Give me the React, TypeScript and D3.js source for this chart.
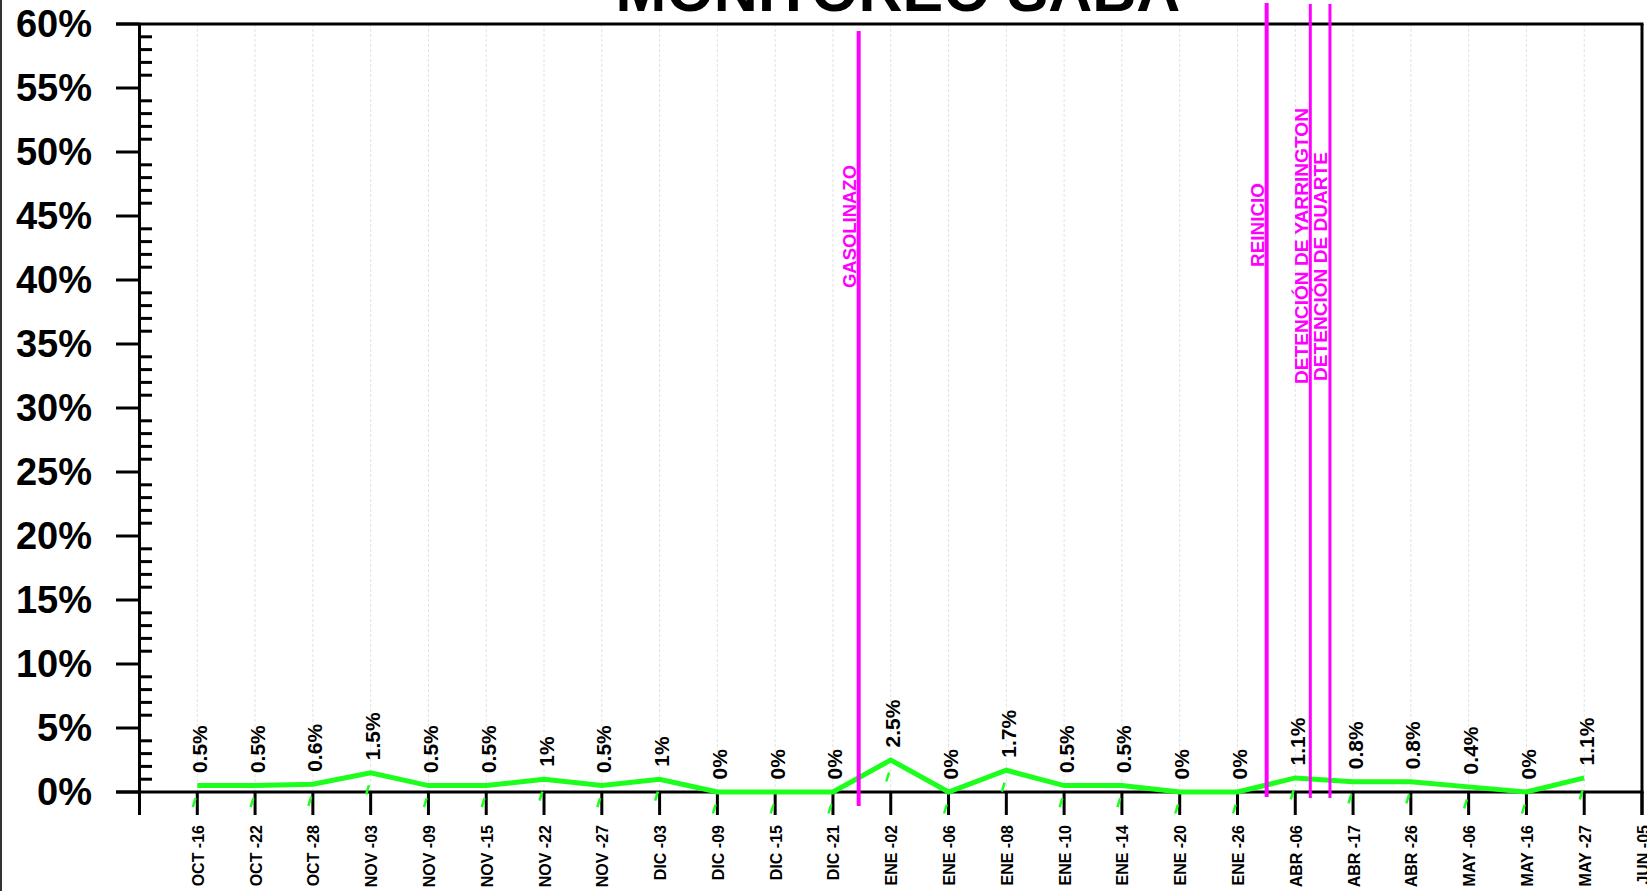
import React from "react";
import * as d3 from "d3";

const categories = [
  "OCT -16", "OCT -22", "OCT -28", "NOV -03", "NOV -09", "NOV -15", "NOV -22", "NOV -27",
  "DIC -03", "DIC -09", "DIC -15", "DIC -21", "ENE -02", "ENE -06", "ENE -08", "ENE -10",
  "ENE -14", "ENE -20", "ENE -26", "ABR -06", "ABR -17", "ABR -26", "MAY -06", "MAY -16",
  "MAY -27", "JUN -05",
];
const values = [
  0.5, 0.5, 0.6, 1.5, 0.5, 0.5, 1, 0.5, 1, 0, 0, 0, 2.5, 0, 1.7, 0.5, 0.5, 0, 0, 1.1, 0.8, 0.8,
  0.4, 0, 1.1,
];
const yTicks = [0, 5, 10, 15, 20, 25, 30, 35, 40, 45, 50, 55, 60];
const events = [
  { label: "GASOLINAZO", pos: 11.445, y1: 31, y2: 806, w: 4, textTop: 165, textBottom: 288 },
  { label: "REINICIO", pos: 18.505, y1: 3, y2: 797, w: 4, textTop: 183, textBottom: 267 },
  { label: "DETENCIÓN DE YARRINGTON", pos: 19.26, y1: 4, y2: 798, w: 3, textTop: 108, textBottom: 384 },
  { label: "DETENCIÓN DE DUARTE", pos: 19.6, y1: 4, y2: 798, w: 3, textTop: 152, textBottom: 381 },
];
const title = "MONITOREO SABA";

const W = 1647;
const H = 891;
const FONT = "'Liberation Sans', Arial, Helvetica, sans-serif";

export default function App() {
  const x = d3.scaleLinear().domain([-1, 25]).range([139.5, 1642]);
  const y = d3.scaleLinear().domain([0, 60]).range([792, 24]);
  const minor = d3.range(1, 60).filter((v) => v % 5 !== 0);
  const line = d3
    .line<number>()
    .x((_, i) => x(i))
    .y((d) => y(d));
  const green = "#1cff1c";
  const magenta = "#ff00ff";

  return (
    <svg
      width={W}
      height={H}
      style={{ position: "absolute", left: 0, top: 0, display: "block", background: "#fff" }}
      fontFamily={FONT}
    >
      <rect x={0} y={0} width={W} height={H} fill="#fff" />
      {/* left frame edge */}
      <line x1={1} x2={1} y1={0} y2={H} stroke="#333" strokeWidth={2} />

      {/* title */}
      <text x={898} y={11} textAnchor="middle" fontSize={61} fontWeight="bold" fill="#000">
        {title}
      </text>

      {/* vertical grid */}
      {categories.map((c, i) => (
        <line
          key={"g" + c}
          x1={x(i)}
          x2={x(i)}
          y1={y(60)}
          y2={y(0)}
          stroke="#e2e2e2"
          strokeWidth={1}
          strokeDasharray="3,2"
        />
      ))}

      {/* top and right frame */}
      <line x1={116} x2={x(25) + 1.5} y1={y(60)} y2={y(60)} stroke="#000" strokeWidth={3} />
      <line x1={x(25)} x2={x(25)} y1={y(60)} y2={815} stroke="#000" strokeWidth={3} />

      {/* y axis */}
      <line x1={x(-1)} x2={x(-1)} y1={y(60)} y2={815} stroke="#000" strokeWidth={3} />
      {yTicks.map((t) => (
        <g key={"yt" + t}>
          <line x1={116} x2={x(-1)} y1={y(t)} y2={y(t)} stroke="#000" strokeWidth={3} />
          <text
            x={92}
            y={y(t)}
            textAnchor="end"
            dominantBaseline="central"
            fontSize={38}
            fontWeight="bold"
            fill="#000"
          >
            {t}%
          </text>
        </g>
      ))}
      {minor.map((t) => (
        <line key={"m" + t} x1={x(-1)} x2={152} y1={y(t)} y2={y(t)} stroke="#000" strokeWidth={3} />
      ))}

      {/* x axis */}
      <line x1={116} x2={x(25) + 1.5} y1={y(0)} y2={y(0)} stroke="#000" strokeWidth={3} />
      {categories.map((c, i) => (
        <g key={"xt" + c}>
          <line x1={x(i)} x2={x(i)} y1={y(0)} y2={815} stroke="#000" strokeWidth={3} />
          <text
            transform={`translate(${x(i) + 1},825) rotate(-90)`}
            textAnchor="end"
            dominantBaseline="central"
            fontSize={16}
            fontWeight="bold"
            fill="#000"
          >
            {c}
          </text>
        </g>
      ))}

      {/* small green marks */}
      {values.map((v, i) => (
        <line
          key={"mk" + i}
          x1={x(i) - 4.5}
          y1={y(v) + 21.5}
          x2={x(i) - 1.7}
          y2={y(v) + 12.5}
          stroke={green}
          strokeWidth={2.5}
        />
      ))}

      {/* series line */}
      <path d={line(values) || ""} fill="none" stroke={green} strokeWidth={5} strokeLinejoin="miter" />

      {/* data labels */}
      {values.map((v, i) => (
        <text
          key={"dl" + i}
          transform={`translate(${x(i) + 2},${y(v) - 12.5}) rotate(-90)`}
          textAnchor="start"
          dominantBaseline="central"
          fontSize={21}
          fontWeight="bold"
          fill="#000"
        >
          {v}%
        </text>
      ))}

      {/* event lines */}
      {events.map((e) => (
        <g key={"ev" + e.label}>
          <line x1={x(e.pos)} x2={x(e.pos)} y1={e.y1} y2={e.y2} stroke={magenta} strokeWidth={e.w} />
          <text
            transform={`translate(${x(e.pos) - e.w / 2 - 1},${e.textBottom}) rotate(-90)`}
            textAnchor="start"
            fontSize={18.5}
            fontWeight="bold"
            fill={magenta}
            textLength={e.textBottom - e.textTop}
            lengthAdjust="spacingAndGlyphs"
          >
            {e.label}
          </text>
        </g>
      ))}
    </svg>
  );
}
